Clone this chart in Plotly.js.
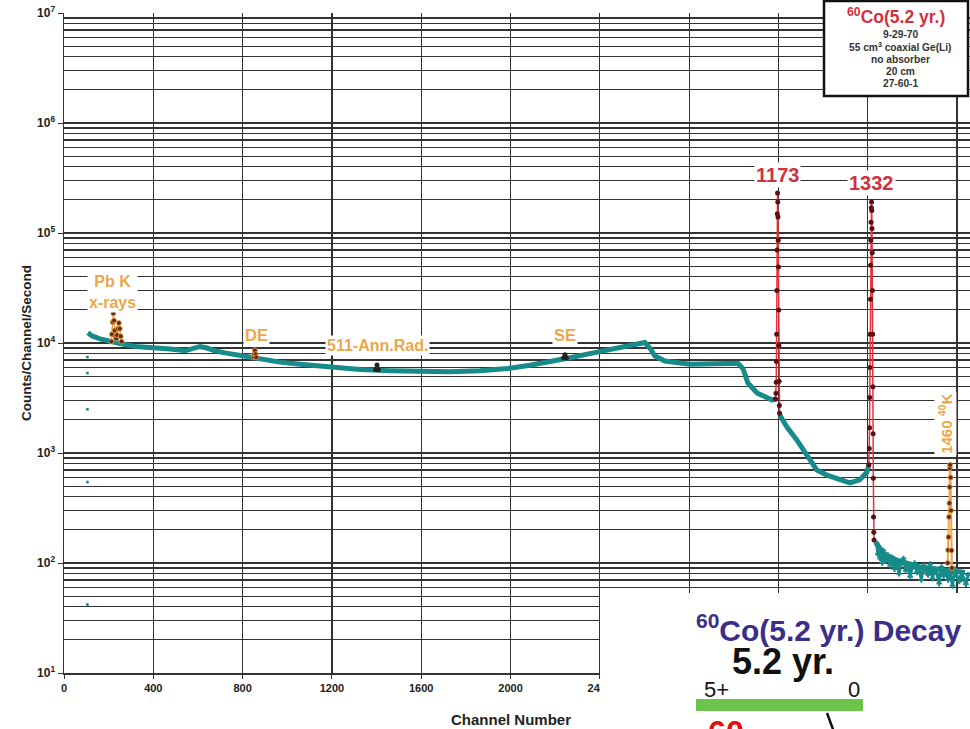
<!DOCTYPE html>
<html><head><meta charset="utf-8">
<script src="https://cdn.plot.ly/plotly-3.0.1.min.js"></script>
<style>html,body{margin:0;padding:0;background:#fff;overflow:hidden;} #chart{width:970px;height:729px;}</style>
</head><body><div id="chart"></div>
<script>
// ---- continuum (teal band); null = gap at full-energy peaks
const contCh  = [107,125,161,206,251,318,394,475,542,587,609,640,676,721,793,878,967,1057,1191,1326,1460,1590,1729,1863,1988,2087,2176,2266,2355,2445,2512,2579,2602,2624,2646,2691,2803,2893,2983,3018,3041,3063,3104,3139,3171,3190, 3197, 3206,3238,3283,3327,3372,3417,3475,3520,3564,3596,3605, 3615, 3636,3668,3730,3833,3954,4035];
const contVal = [12400,11600,10900,10300,9900,9300,9160,8800,8490,8990,9300,9000,8490,8130,7650,7200,6700,6400,6000,5730,5600,5480,5480,5600,5860,6270,6700,7340,8000,8800,9300,9900,10100,9000,7650,6850,6400,6400,6400,6550,5860,4330,3510,3220,3030,3100, null, 2220,1720,1310,960,700,630,570,535,570,670,780, null, 155,123,106,92,86,82];
// noisy tail after the 1332 keV peak
const tailCh  = [3640,3645,3650,3655,3660,3665,3670,3680,3690,3700,3710,3720,3730,3740,3750,3760,3770,3780,3790,3800,3810,3820,3830,3840,3850,3860,3870,3880,3890,3900,3910,3920,3930,3940,3950,3960,3970,3980,3990,4000,4010,4020,4030,4040,4050];
const tailVal = [150,120,140,110,125,100,130,105,118,95,112,88,104,80,98,110,85,96,75,92,100,82,90,70,95,84,78,98,72,88,80,65,92,76,85,70,80,62,88,75,68,82,72,64,78];
// stray low-channel points
const strayCh  = [105,105,105,105,105];
const strayVal = [7470,5340,2500,545,42];
// ---- peaks
const pbCh  = [212,215,218,221,224,227,230,234,238,242,246,250,254,258];
const pbVal = [10300,12000,15500,18600,16000,13000,11500,11000,11800,13500,15200,13500,11500,10300];
const deCh  = [849,852,855,858,861];
const deVal = [7500,7900,8600,7900,7400];
const annCh = [1396,1402,1408];
const annVal= [5750,6300,5750];
const seCh  = [2238,2244,2250];
const seVal = [7300,7800,7300];
const p1173Ch  = [3187,3189,3190,3191,3192,3193,3194,3195,3196,3197,3198,3199,3200,3201,3202,3203,3204,3205];
const p1173Val = [3100,3500,4400,6800,12000,30000,70000,150000,231000,191000,140000,86000,49000,20000,9500,4500,2700,2300];
const p1332Ch  = [3605,3607,3608,3609,3610,3611,3612,3613,3614,3615,3616,3617,3618,3619,3620,3621,3622,3623,3624,3625,3626,3627,3628];
const p1332Val = [780,1100,1700,3200,6000,12000,25000,51000,86000,125000,170000,191000,160000,110000,66000,30000,12000,4000,1500,590,262,190,162];
const p1460Ch  = [3958,3960,3962,3964,3966,3967,3968,3969,3971,3973,3975,3977];
const p1460Val = [100,131,172,262,350,490,730,780,600,300,130,90];
// ---- axis ticks
const xTicks = [0,400,800,1200,1600,2000,2400,2800,3200,3600,4000];
const yTicks = [10,100,1000,10000,100000,1000000,10000000];
const yTickText = ['10<sup>1</sup>','10<sup>2</sup>','10<sup>3</sup>','10<sup>4</sup>','10<sup>5</sup>','10<sup>6</sup>','10<sup>7</sup>'];
// ---- info box lines
const infoLines = ['9-29-70','55 cm<sup>3</sup> coaxial Ge(Li)','no absorber','20 cm','27-60-1'];

const W=970,H=729,L=64,R=0,T=13,B=56;
const px = x => (x-L)/(W-L-R);
const py = y => (H-B-y)/(H-T-B);
const minorVals=[];
for(let e=1;e<7;e++){for(let k=2;k<10;k++){minorVals.push(k*Math.pow(10,e));}}

const TEAL='#178a8a', ORANGE='#eca64c', RED='#d2303f', BROWN='#6a2a10', MAROON='#5a0f14';
const F='Liberation Sans, Arial, sans-serif';
const GRID='#333';

const traces=[
 {x:contCh,y:contVal,mode:'lines',line:{color:TEAL,width:5},connectgaps:false,hoverinfo:'skip'},
 {x:tailCh,y:tailVal,mode:'markers',marker:{color:TEAL,size:4,symbol:'cross-thin',line:{color:TEAL,width:2}}},
 {x:tailCh,y:tailVal,mode:'lines',line:{color:TEAL,width:3}},
 {x:strayCh,y:strayVal,mode:'markers',marker:{color:TEAL,size:3}},
 {x:pbCh,y:pbVal,mode:'lines+markers',line:{color:ORANGE,width:1.5},marker:{color:BROWN,size:5,line:{color:ORANGE,width:0.8}}},
 {x:deCh,y:deVal,mode:'lines+markers',line:{color:ORANGE,width:1.5},marker:{color:BROWN,size:5,line:{color:ORANGE,width:0.8}}},
 {x:annCh,y:annVal,mode:'lines+markers',line:{color:ORANGE,width:1.5},marker:{color:'#222',size:5}},
 {x:seCh,y:seVal,mode:'lines+markers',line:{color:ORANGE,width:1.5},marker:{color:'#222',size:5}},
 {x:p1173Ch,y:p1173Val,mode:'lines+markers',line:{color:'#e8303a',width:1.5},marker:{color:MAROON,size:5}},
 {x:p1332Ch,y:p1332Val,mode:'lines+markers',line:{color:'#e8303a',width:1.5},marker:{color:MAROON,size:5}},
 {x:p1460Ch,y:p1460Val,mode:'lines+markers',line:{color:ORANGE,width:2},marker:{color:BROWN,size:5,line:{color:ORANGE,width:0.8}}}
];

const lab=(x,y,text,color,size,extra)=>Object.assign({x:x,y:y,xref:'x',yref:'y',text:text,showarrow:false,
  xanchor:'center',yanchor:'middle',
  font:{family:F,size:size,color:color,weight:'bold'},bgcolor:'#fff',borderpad:1},extra||{});
const pap=(x,y,text,font,extra)=>Object.assign({x:px(x),y:py(y),xref:'paper',yref:'paper',text:text,showarrow:false,
  xanchor:'center',yanchor:'middle',font:font},extra||{});

const annotations=[
 lab(218,4.464,'Pb K<br>x-rays',ORANGE,16),
 lab(862,4.07,'DE',ORANGE,16.5),
 lab(1402,3.973,'511-Ann.Rad.',ORANGE,16),
 lab(2244,4.073,'SE',ORANGE,16.5),
 lab(3196,5.527,'1173',RED,20),
 lab(3618,5.455,'1332',RED,20),
 lab(3950,3.264,'1460 <sup>40</sup>K',ORANGE,15,{textangle:-90}),
 // info box
 pap(896,16,'<sup>60</sup>Co(5.2 yr.)',{family:F,size:17.5,color:RED,weight:'bold'}),
 // decay scheme inset
 pap(694,628,'<sup>60</sup>Co(5.2 yr.) Decay',{family:F,size:30,color:'#3a2e88',weight:'bold'},{xanchor:'left'}),
 pap(783,661,'5.2 yr.',{family:F,size:36,color:'#111',weight:'bold'}),
 pap(702,689,'5+',{family:F,size:22,color:'#111'},{xanchor:'left'}),
 pap(862,689,'0',{family:F,size:22,color:'#111'},{xanchor:'right'}),
 pap(706,712,'<sup>60</sup>Co',{family:F,size:46,color:'#e01010',weight:'bold'},{xanchor:'left',yanchor:'top'}),
 // x-axis title
 pap(511,719,'Channel Number',{family:F,size:15,color:'#222',weight:'bold'})
];
const infoY=[34,47,59,72,84];
infoLines.forEach((t,i)=>annotations.push(pap(900,infoY[i],t,{family:F,size:10.2,color:'#333',weight:'bold'})));

const shapes=[
 {type:'rect',xref:'paper',yref:'paper',x0:px(824),x1:px(968),y0:py(1),y1:py(96),fillcolor:'#fff',line:{color:'#111',width:2.5},layer:'above'},
 {type:'rect',xref:'paper',yref:'paper',x0:px(600),x1:px(975),y0:py(593),y1:py(735),fillcolor:'#fff',line:{width:0},layer:'above'},
 {type:'rect',xref:'paper',yref:'paper',x0:px(696),x1:px(863),y0:py(699),y1:py(711),fillcolor:'#6cc54a',line:{width:0},layer:'above'},
 {type:'line',xref:'paper',yref:'paper',x0:px(827),x1:px(834),y0:py(713),y1:py(732),line:{color:'#111',width:2.5},layer:'above'}
];

const layout={
 width:W,height:H,margin:{l:L,r:R,t:T,b:B},paper_bgcolor:'#fff',plot_bgcolor:'#fff',showlegend:false,
 font:{family:F,color:'#222'},
 xaxis:{range:[0,4058],tickvals:xTicks,showgrid:true,gridcolor:GRID,gridwidth:1.2,zeroline:false,
   showline:true,linecolor:GRID,linewidth:1.5,ticks:'outside',ticklen:4,tickcolor:GRID,
   tickfont:{family:F,size:11,color:'#222',weight:'bold'}},
 yaxis:{type:'log',range:[1,7],tickvals:yTicks,ticktext:yTickText,showgrid:true,gridcolor:GRID,gridwidth:1.2,zeroline:false,
   showline:true,linecolor:GRID,linewidth:1.5,ticks:'outside',ticklen:5,tickcolor:GRID,
   tickfont:{family:F,size:12,color:'#222',weight:'bold'},
   minor:{tickmode:'array',tickvals:minorVals,showgrid:true,gridcolor:GRID,gridwidth:1.2,ticks:''},
   title:{text:'Counts/Channel/Second',standoff:2,font:{family:F,size:13.5,color:'#222',weight:'bold'}}},
 annotations:annotations,shapes:shapes
};
Plotly.newPlot('chart',traces,layout,{staticPlot:true,displayModeBar:false});
</script></body></html>
